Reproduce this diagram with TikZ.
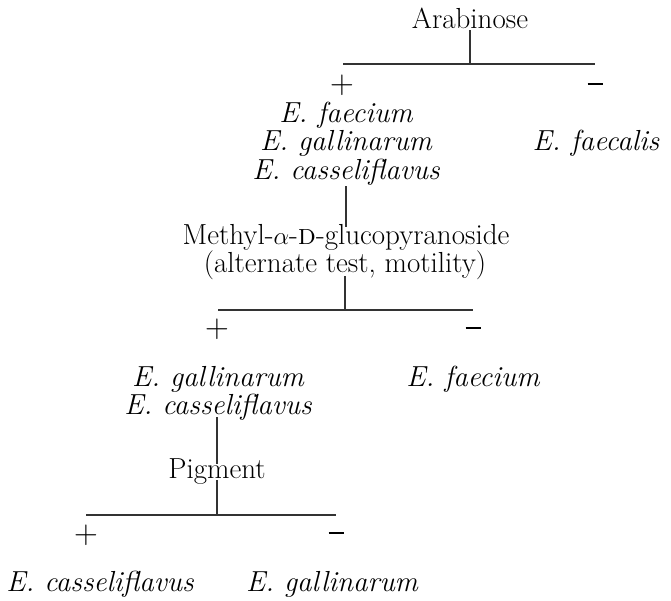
\documentclass[tikz,border=0pt]{standalone}
\begin{document}
\begin{tikzpicture}[x=1pt,y=1pt,
  lbl/.style={inner sep=0pt,outer sep=0pt,anchor=base,text height=0.66em,text depth=0.2em,font=\fontsize{29}{34}\selectfont},
  sp/.style={lbl,font=\fontsize{29}{34}\selectfont\itshape},
  sign/.style={inner sep=0pt,anchor=center,font=\fontsize{33}{36}\selectfont},
  minus/.style={inner sep=0pt,anchor=center},
  ln/.style={line width=1.4pt,black!80}]
\useasboundingbox (0,0) rectangle (671,-600);
% level 1
\node[lbl] (arab) at (470,-28) {Arabinose};
\coordinate (b1l) at (343,-64);
\coordinate (b1r) at (595,-64);
\draw[ln] (arab.south) -- (arab.south |- b1l);
\draw[ln] (b1l) -- (b1r);
\node[sign] (p1) at (342,-85) {+};
\node[minus] (n1) at (595,-84) {\rule{15pt}{2.2pt}};
\node[sp] (g1a) at (346,-122) {E. faecium};
\node[sp] (g1b) at (346,-150) {E. gallinarum};
\node[sp] (g1c) at (346,-179) {E. casseliflavus};
\node[sp] (fcl) at (596,-150) {E. faecalis};
% level 2
\node[lbl] (m1) at (346,-244) {Methyl-$\alpha$-\textsc{d}-glucopyranoside};
\node[lbl] (m2) at (345,-272) {(alternate test, motility)};
\draw[ln,shorten <=5pt,shorten >=10pt] (g1c.south -| m1.north) -- (m1.north);
\coordinate (b2l) at (218,-310);
\coordinate (b2r) at (473,-310);
\draw[ln,shorten <=2pt] (m2.south) -- (m2.south |- b2l);
\draw[ln] (b2l) -- (b2r);
\node[sign] (p2) at (217,-329) {+};
\node[minus] (n2) at (473,-328) {\rule{15pt}{2.2pt}};
\node[sp] (g2a) at (218,-386) {E. gallinarum};
\node[sp] (g2b) at (218,-414) {E. casseliflavus};
\node[sp] (fcm) at (473,-386) {E. faecium};
% level 3
\node[lbl] (pig) at (217,-478) {Pigment};
\draw[ln,shorten <=1pt,shorten >=7pt] (g2b.south -| pig.north) -- (pig.north);
\coordinate (b3l) at (86,-515);
\coordinate (b3r) at (336,-515);
\draw[ln] (pig.south) -- (pig.south |- b3l);
\draw[ln] (b3l) -- (b3r);
\node[sign] (p3) at (86,-535) {+};
\node[minus] (n3) at (336,-533) {\rule{15pt}{2.2pt}};
\node[sp] (cas) at (100,-591) {E. casseliflavus};
\node[sp] (gal) at (332,-591) {E. gallinarum};
\end{tikzpicture}
\end{document}
